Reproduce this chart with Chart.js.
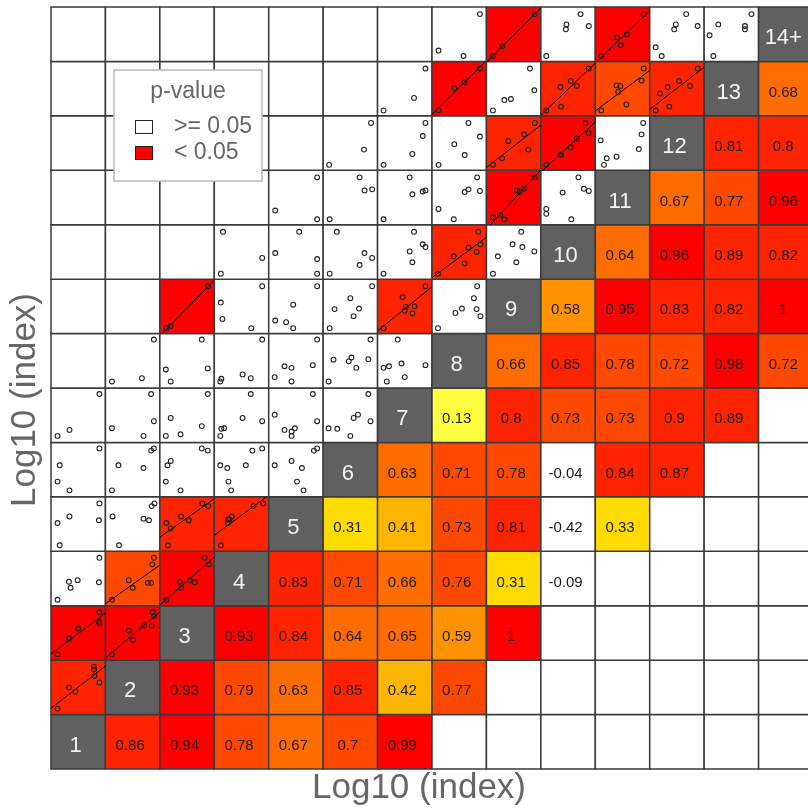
<!DOCTYPE html>
<html>
<head>
<meta charset="utf-8">
<title>Log10 (index) pairs</title>
<script src="https://cdn.jsdelivr.net/npm/chart.js@4.4.0/dist/chart.umd.min.js"></script>
<style>
html,body{margin:0;padding:0;background:#fff;overflow:hidden;}
#wrap{width:820px;height:812px;}
</style>
</head>
<body>
<div id="wrap"><canvas id="pairsChart" width="820" height="812"></canvas></div>
<script>
// variables along the diagonal, bottom-left to top-right
const diagLabels = ["1","2","3","4","5","6","7","8","9","10","11","12","13","14+"];

// correlations, one list per row (row r holds cols r+1, r+2, ...)
const corrRows = [
  [0.86, 0.94, 0.78, 0.67, 0.7, 0.99],
  [0.93, 0.79, 0.63, 0.85, 0.42, 0.77],
  [0.93, 0.84, 0.64, 0.65, 0.59, 1],
  [0.83, 0.71, 0.66, 0.76, 0.31, -0.09],
  [0.31, 0.41, 0.73, 0.81, -0.42, 0.33],
  [0.63, 0.71, 0.78, -0.04, 0.84, 0.87],
  [0.13, 0.8, 0.73, 0.73, 0.896, 0.89], // 0.9 printed, colour says just under
  [0.66, 0.85, 0.78, 0.72, 0.98, 0.72],
  [0.58, 0.95, 0.83, 0.82, 1],
  [0.64, 0.96, 0.89, 0.82],
  [0.67, 0.77, 0.96],
  [0.81, 0.8],
  [0.68]
];

// pairs [lo, hi] with p < 0.05
const sigPairs = [
  [1,2],[1,3],[2,3],[2,4],[3,4],[3,5],[4,5],[3,9],[7,9],[8,10],
  [9,11],[9,12],[10,12],[8,13],[10,13],[11,13],[12,13],[9,14],[11,14]
];

// scatter panels, key "col,row", points as [u,v] inside the panel (0..1)
const panelPts = {
  "1,2": [[0.79,0.88],[0.79,0.83],[0.80,0.71],[0.89,0.59],[0.33,0.50],[0.45,0.42],[0.12,0.11]],
  "1,3": [[0.89,0.88],[0.88,0.71],[0.89,0.68],[0.50,0.58],[0.34,0.41],[0.33,0.39],[0.12,0.11]],
  "2,3": [[0.87,0.88],[0.89,0.81],[0.85,0.63],[0.71,0.64],[0.43,0.54],[0.51,0.37],[0.12,0.11]],
  "1,4": [[0.89,0.88],[0.33,0.44],[0.49,0.47],[0.36,0.33],[0.88,0.43],[0.12,0.11]],
  "2,4": [[0.89,0.88],[0.86,0.76],[0.43,0.47],[0.50,0.33],[0.78,0.42],[0.84,0.42],[0.12,0.11]],
  "3,4": [[0.82,0.88],[0.90,0.76],[0.37,0.44],[0.55,0.47],[0.64,0.43],[0.39,0.33],[0.12,0.11]],
  "1,5": [[0.89,0.88],[0.34,0.64],[0.12,0.52],[0.88,0.57],[0.16,0.11]],
  "2,5": [[0.90,0.88],[0.85,0.83],[0.13,0.64],[0.70,0.60],[0.80,0.57],[0.25,0.11]],
  "3,5": [[0.78,0.88],[0.89,0.83],[0.39,0.64],[0.12,0.52],[0.53,0.57],[0.20,0.42],[0.15,0.11]],
  "4,5": [[0.90,0.88],[0.72,0.83],[0.32,0.64],[0.26,0.59],[0.25,0.52],[0.28,0.58],[0.12,0.11]],
  "1,6": [[0.89,0.89],[0.16,0.58],[0.12,0.28],[0.34,0.12]],
  "2,6": [[0.89,0.89],[0.84,0.85],[0.24,0.58],[0.70,0.53],[0.12,0.12]],
  "3,6": [[0.77,0.89],[0.88,0.85],[0.20,0.66],[0.14,0.58],[0.11,0.28],[0.38,0.12]],
  "4,6": [[0.88,0.89],[0.70,0.85],[0.11,0.58],[0.24,0.53],[0.58,0.58],[0.26,0.28],[0.31,0.12]],
  "5,6": [[0.89,0.89],[0.83,0.85],[0.11,0.58],[0.42,0.66],[0.61,0.53],[0.52,0.28],[0.64,0.12]],
  "1,7": [[0.89,0.89],[0.34,0.23],[0.12,0.12]],
  "2,7": [[0.84,0.89],[0.89,0.39],[0.12,0.26],[0.70,0.12]],
  "3,7": [[0.88,0.89],[0.20,0.45],[0.11,0.12],[0.38,0.15],[0.77,0.30]],
  "4,7": [[0.67,0.89],[0.52,0.45],[0.88,0.39],[0.11,0.12],[0.13,0.25],[0.18,0.26]],
  "5,7": [[0.81,0.89],[0.11,0.51],[0.29,0.23],[0.42,0.20],[0.42,0.12],[0.48,0.26],[0.89,0.39]],
  "6,7": [[0.83,0.89],[0.10,0.26],[0.26,0.25],[0.56,0.45],[0.64,0.51],[0.87,0.39],[0.50,0.12]],
  "2,8": [[0.12,0.12],[0.67,0.18],[0.89,0.89]],
  "3,8": [[0.77,0.89],[0.11,0.34],[0.20,0.12],[0.88,0.36]],
  "4,8": [[0.88,0.89],[0.11,0.12],[0.13,0.17],[0.52,0.25],[0.67,0.18]],
  "5,8": [[0.89,0.89],[0.11,0.20],[0.29,0.40],[0.42,0.37],[0.42,0.12],[0.81,0.42]],
  "6,8": [[0.87,0.89],[0.10,0.12],[0.19,0.52],[0.47,0.49],[0.52,0.56],[0.61,0.37],[0.83,0.53]],
  "7,8": [[0.37,0.89],[0.11,0.37],[0.21,0.40],[0.44,0.45],[0.88,0.42],[0.17,0.12],[0.50,0.20]],
  "3,9": [[0.89,0.87],[0.20,0.14],[0.12,0.10]],
  "4,9": [[0.88,0.87],[0.12,0.57],[0.15,0.27],[0.68,0.10]],
  "5,9": [[0.89,0.87],[0.45,0.53],[0.12,0.24],[0.32,0.21],[0.45,0.10]],
  "6,9": [[0.90,0.87],[0.50,0.65],[0.21,0.45],[0.66,0.46],[0.56,0.32],[0.12,0.10]],
  "7,9": [[0.88,0.87],[0.46,0.67],[0.52,0.49],[0.68,0.50],[0.50,0.42],[0.64,0.37],[0.11,0.10]],
  "8,9": [[0.83,0.87],[0.77,0.65],[0.55,0.46],[0.43,0.38],[0.82,0.45],[0.89,0.32],[0.11,0.10]],
  "4,10": [[0.16,0.87],[0.88,0.39],[0.12,0.10]],
  "5,10": [[0.56,0.87],[0.12,0.48],[0.89,0.37],[0.89,0.10]],
  "6,10": [[0.25,0.87],[0.76,0.48],[0.90,0.39],[0.67,0.26],[0.12,0.10]],
  "7,10": [[0.67,0.87],[0.83,0.64],[0.88,0.59],[0.59,0.51],[0.64,0.31],[0.11,0.10]],
  "8,10": [[0.85,0.87],[0.89,0.64],[0.67,0.58],[0.82,0.50],[0.40,0.42],[0.60,0.29],[0.11,0.10]],
  "9,10": [[0.64,0.87],[0.48,0.64],[0.66,0.59],[0.88,0.51],[0.21,0.42],[0.55,0.31],[0.12,0.10]],
  "5,11": [[0.89,0.87],[0.12,0.26],[0.89,0.10]],
  "6,11": [[0.67,0.87],[0.76,0.63],[0.90,0.65],[0.12,0.10]],
  "7,11": [[0.59,0.87],[0.64,0.56],[0.83,0.61],[0.88,0.63],[0.11,0.10]],
  "8,11": [[0.83,0.87],[0.60,0.60],[0.67,0.65],[0.88,0.62],[0.12,0.29],[0.40,0.10]],
  "9,11": [[0.89,0.87],[0.69,0.66],[0.61,0.60],[0.56,0.63],[0.12,0.14],[0.25,0.18],[0.33,0.10]],
  "10,11": [[0.69,0.87],[0.40,0.59],[0.79,0.66],[0.88,0.62],[0.10,0.29],[0.10,0.20],[0.56,0.10]],
  "6,12": [[0.88,0.87],[0.75,0.38],[0.11,0.10]],
  "7,12": [[0.88,0.87],[0.83,0.63],[0.64,0.30],[0.11,0.10]],
  "8,12": [[0.67,0.87],[0.88,0.62],[0.41,0.48],[0.60,0.28],[0.12,0.10]],
  "9,12": [[0.89,0.87],[0.69,0.66],[0.40,0.54],[0.77,0.38],[0.29,0.22],[0.12,0.10]],
  "10,12": [[0.82,0.87],[0.88,0.68],[0.66,0.58],[0.55,0.42],[0.37,0.28],[0.36,0.29],[0.10,0.10]],
  "11,12": [[0.88,0.87],[0.85,0.66],[0.10,0.55],[0.80,0.39],[0.39,0.25],[0.21,0.22],[0.16,0.10]],
  "7,13": [[0.88,0.87],[0.67,0.33],[0.11,0.10]],
  "8,13": [[0.88,0.87],[0.60,0.62],[0.41,0.51],[0.12,0.10]],
  "9,13": [[0.80,0.87],[0.88,0.47],[0.33,0.29],[0.45,0.31],[0.12,0.10]],
  "10,13": [[0.88,0.87],[0.55,0.64],[0.66,0.55],[0.36,0.53],[0.37,0.17],[0.10,0.10]],
  "11,13": [[0.89,0.87],[0.85,0.65],[0.39,0.56],[0.46,0.55],[0.42,0.44],[0.57,0.21],[0.11,0.10]],
  "12,13": [[0.88,0.87],[0.54,0.64],[0.74,0.55],[0.33,0.53],[0.19,0.41],[0.36,0.17],[0.11,0.10]],
  "8,14": [[0.88,0.87],[0.12,0.20],[0.58,0.10]],
  "9,14": [[0.89,0.87],[0.29,0.28],[0.12,0.10]],
  "10,14": [[0.73,0.87],[0.47,0.68],[0.46,0.59],[0.88,0.65],[0.10,0.10]],
  "11,14": [[0.89,0.87],[0.58,0.50],[0.40,0.44],[0.47,0.30],[0.11,0.10]],
  "12,14": [[0.67,0.87],[0.48,0.68],[0.45,0.59],[0.88,0.65],[0.11,0.26],[0.22,0.10]],
  "13,14": [[0.87,0.87],[0.26,0.68],[0.10,0.48],[0.75,0.65],[0.75,0.59],[0.17,0.10]]
};

// heat palette, bins of 0.1 from 0 up to 1
const heatColors = ["#FFFFBF","#FFFF40","#FFFF00","#FFDB00","#FFB600","#FF9200","#FF6D00","#FF4900","#FF2400","#FF0000"];

const N = diagLabels.length;
const diagColor = "#606060";
const FONT = "'Liberation Sans', Arial, sans-serif";

function corrAt(r, c){
  const row = corrRows[r-1];
  if(!row) return null;
  const v = row[c-r-1];
  return v === undefined ? null : v;
}

function heat(v){
  if(v < 0) return "#FFFFFF";
  return heatColors[Math.min(9, Math.floor(v*10 + 1e-9))];
}

function isSig(lo, hi){
  return sigPairs.some(p => p[0] === lo && p[1] === hi);
}

// cells: every square of the grid
let cellData = [];
let cellColors = [];
for(let r = 1; r <= N; r++){
  for(let c = 1; c <= N; c++){
    let col = "#FFFFFF";
    if(r === c){
      col = diagColor;
    } else if(c > r){
      const v = corrAt(r, c);
      if(v !== null) col = heat(v);
    } else {
      const v = corrAt(c, r);
      if(v !== null && isSig(c, r)) col = heat(v);
    }
    cellData.push({x: c - 0.5, y: r - 0.5, r: r, c: c});
    cellColors.push(col);
  }
}

// scatter points inside the panels
let pointData = [];
Object.keys(panelPts).forEach(key=>{
  const [c, r] = key.split(",").map(Number);
  panelPts[key].forEach(p=>{
    pointData.push({x: c - 1 + p[0], y: r - 1 + p[1]});
  });
});

// least squares line for significant panels, kept inside its square
function fitLine(pts){
  const n = pts.length;
  let mx = 0, my = 0;
  pts.forEach(p=>{ mx += p[0]; my += p[1]; });
  mx /= n; my /= n;
  let sxy = 0, sxx = 0;
  pts.forEach(p=>{ sxy += (p[0]-mx)*(p[1]-my); sxx += (p[0]-mx)*(p[0]-mx); });
  const b = sxy / sxx;
  const a = my - b*mx;
  let us = [0, 1];
  if(b !== 0){ us.push(-a/b); us.push((1-a)/b); }
  us = us.filter(u => u >= -1e-9 && u <= 1+1e-9 && a + b*u >= -1e-9 && a + b*u <= 1+1e-9);
  const u0 = Math.min(...us), u1 = Math.max(...us);
  return [[u0, a + b*u0], [u1, a + b*u1]];
}

let lineSets = sigPairs.map(([lo, hi])=>{
  const seg = fitLine(panelPts[lo + "," + hi]);
  return {
    label: "fit " + lo + "-" + hi,
    data: seg.map(s => ({x: lo - 1 + s[0], y: hi - 1 + s[1]})),
    showLine: true,
    pointRadius: 0,
    borderColor: "#000000",
    borderWidth: 1,
    order: 2
  };
});

const cellPx = ctx => {
  const xs = ctx.chart.scales.x;
  return (xs.getPixelForValue(1) - xs.getPixelForValue(0)) / Math.SQRT2;
};

const cellText = {
  id: "cellText",
  afterDatasetsDraw(chart){
    const {ctx, scales:{x, y}} = chart;
    ctx.save();
    ctx.textAlign = "center";
    ctx.textBaseline = "middle";
    cellData.forEach(d=>{
      const px = x.getPixelForValue(d.x) - 2.5;
      const py = y.getPixelForValue(d.y) + 4;
      if(d.r === d.c){
        ctx.font = "22px " + FONT;
        ctx.fillStyle = "#f4f4f4";
        ctx.fillText(diagLabels[d.r-1], px, py);
      } else if(d.c > d.r){
        const v = corrAt(d.r, d.c);
        if(v === null) return;
        ctx.font = "15px " + FONT;
        ctx.fillStyle = "#1a1a1a";
        ctx.fillText(String(Math.round(v*100)/100), px, py);
      }
    });
    ctx.restore();
  }
};

const pLegend = {
  id: "pLegend",
  afterDraw(chart){
    const ctx = chart.ctx;
    ctx.save();
    ctx.fillStyle = "#ffffff";
    ctx.strokeStyle = "#b8b8b8";
    ctx.lineWidth = 1.5;
    ctx.fillRect(114, 70, 148, 111);
    ctx.strokeRect(114, 70, 148, 111);
    ctx.font = "23px " + FONT;
    ctx.fillStyle = "#666666";
    ctx.textAlign = "center";
    ctx.textBaseline = "middle";
    ctx.fillText("p-value", 188, 92);
    ctx.textAlign = "left";
    ctx.fillText(">= 0.05", 174, 127);
    ctx.fillText("< 0.05", 174, 153);
    ctx.lineWidth = 1;
    ctx.strokeStyle = "#222222";
    ctx.fillStyle = "#FFFFFF";
    ctx.fillRect(135.5, 120.5, 17, 13);
    ctx.strokeRect(135.5, 120.5, 17, 13);
    ctx.fillStyle = heatColors[9];
    ctx.fillRect(135.5, 146.5, 17, 13);
    ctx.strokeRect(135.5, 146.5, 17, 13);

    // axis titles
    ctx.font = "35px " + FONT;
    ctx.fillStyle = "#666666";
    ctx.textAlign = "center";
    ctx.textBaseline = "alphabetic";
    ctx.fillText("Log10 (index)", 419, 798);
    ctx.translate(35, 400);
    ctx.rotate(-Math.PI/2);
    ctx.fillText("Log10 (index)", 0, 0);
    ctx.restore();
  }
};

new Chart(document.getElementById("pairsChart"), {
  type: "scatter",
  data: {
    datasets: [
      {
        label: "cells",
        data: cellData,
        pointStyle: "rect",
        radius: cellPx,
        backgroundColor: cellColors,
        borderColor: "#3a3a3a",
        borderWidth: 1.5,
        clip: false,
        order: 3
      },
      ...lineSets,
      {
        label: "points",
        data: pointData,
        pointStyle: "circle",
        radius: 2.4,
        backgroundColor: "rgba(0,0,0,0)",
        borderColor: "#222222",
        borderWidth: 1.1,
        order: 1
      }
    ]
  },
  options: {
    responsive: false,
    animation: false,
    events: [],
    layout: { padding: { left: 51, top: 7, right: 7, bottom: 43 } },
    scales: {
      x: { type: "linear", min: 0, max: N, display: false },
      y: { type: "linear", min: 0, max: N, display: false }
    },
    plugins: {
      legend: { display: false },
      tooltip: { enabled: false }
    }
  },
  plugins: [cellText, pLegend]
});
</script>
</body>
</html>
